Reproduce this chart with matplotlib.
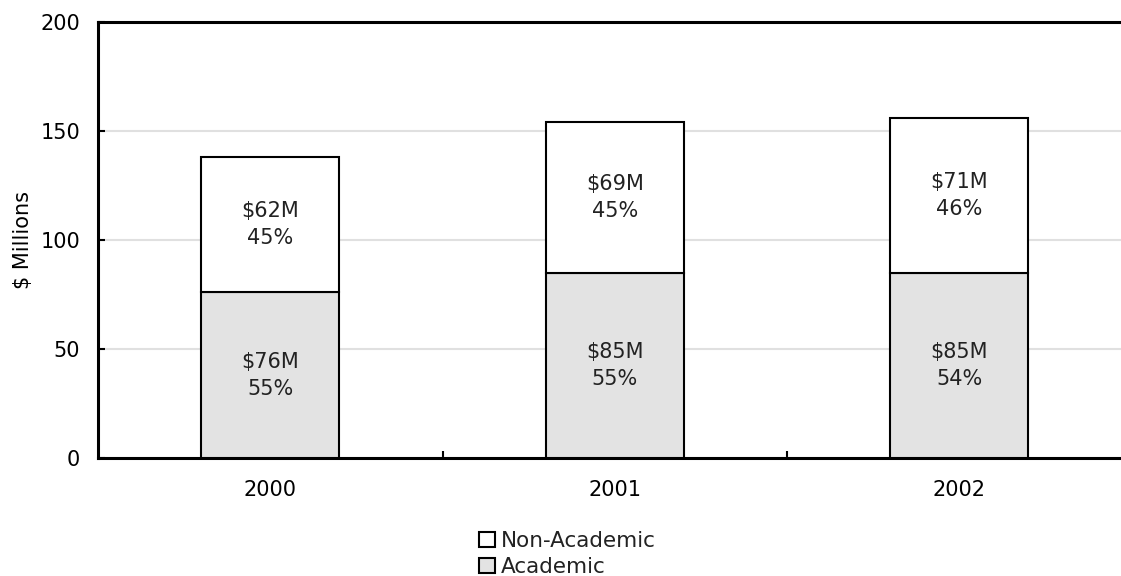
import matplotlib
matplotlib.use("Agg")
import matplotlib.pyplot as plt
import numpy as np

years = ["2000", "2001", "2002"]
academic = [76, 85, 85]
non_academic = [62, 69, 71]
academic_pct = [55, 55, 54]
non_academic_pct = [45, 45, 46]

ACAD_COLOR = "#e3e3e3"
GRID_COLOR = "#e0e0e0"

plt.rcParams.update({
    "font.family": "DejaVu Sans",
    "font.size": 15,
    "text.color": "#222222",
})

fig = plt.figure(figsize=(11.21, 5.76), dpi=100)
ax = fig.add_axes([98 / 1121, 1 - 458 / 576, 1033.5 / 1121, 436 / 576])

x = np.arange(len(years))
w = 0.40
ax.bar(x, academic, w, color=ACAD_COLOR, edgecolor="black", linewidth=1.5,
       label="Academic", zorder=3)
ax.bar(x, non_academic, w, bottom=academic, color="white", edgecolor="black",
       linewidth=1.5, label="Non-Academic", zorder=3)

for xi, a, n, ap, npct in zip(x, academic, non_academic, academic_pct, non_academic_pct):
    ax.text(xi, a / 2, f"${a}M\n{ap}%", ha="center", va="center",
            fontsize=15, linespacing=1.42, zorder=4)
    ax.text(xi, a + n / 2, f"${n}M\n{npct}%", ha="center", va="center",
            fontsize=15, linespacing=1.42, zorder=4)

ax.set_xlim(-0.5, 2.5)
ax.set_ylim(0, 200)
ax.set_yticks([0, 50, 100, 150, 200])
ax.yaxis.grid(True, color=GRID_COLOR, linewidth=1.5)
ax.set_axisbelow(True)

# category labels centred under bars, tick marks on the boundaries
ax.set_xticks([0.5, 1.5])
ax.set_xticklabels([])
ax.set_xticks(x, minor=True)
ax.set_xticklabels(years, minor=True)
ax.tick_params(axis="x", which="minor", length=0, pad=16, labelsize=15)
ax.tick_params(axis="x", which="major", direction="in", length=5, width=1.5)
ax.tick_params(axis="y", direction="in", length=5, width=1.5, pad=13, labelsize=15)

for side in ["left", "bottom", "top"]:
    ax.spines[side].set_linewidth(2.2)
ax.spines["right"].set_visible(False)

ax.set_ylabel("$ Millions", fontsize=15)
ax.yaxis.set_label_coords(-0.063, 0.5)

handles, labels = ax.get_legend_handles_labels()
fig.legend(handles[::-1], labels[::-1], loc="upper center",
           bbox_to_anchor=(0.506, 1 - 518 / 576), frameon=False,
           handlelength=0.75, handleheight=0.75, handletextpad=0.25,
           labelspacing=0.28, borderpad=0.1, fontsize=15.5)

fig.savefig("out.png", dpi=100)
